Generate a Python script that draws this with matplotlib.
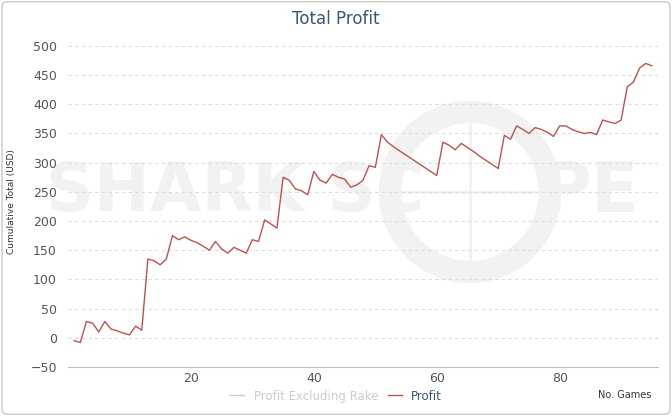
import matplotlib.pyplot as plt
from matplotlib.patches import FancyBboxPatch, Ellipse
from matplotlib.lines import Line2D

# ---------- DATA ----------
profit = [-5, -8, 28, 25, 10, 28, 15, 12, 8, 5, 20, 13,
          135, 132, 125, 135, 175, 168, 173, 167, 163, 157, 150, 165, 152,
          145, 155, 150, 145, 168, 165, 202, 195, 188, 275, 270, 255, 252,
          245, 285, 270, 265, 280, 275, 272, 258, 262, 270, 295, 292,
          348, 335, 327, 320, 313, 306, 299, 292, 285, 278,
          335, 330, 322, 333, 326, 319, 311, 304, 297, 290,
          347, 340, 363, 357, 350, 360, 357, 352, 345, 363, 363, 357, 353,
          350, 352, 348, 373, 370, 367, 373, 430, 438, 462, 470, 466]
games = list(range(1, len(profit) + 1))
y_ticks = list(range(-50, 501, 50))
x_ticks = [20, 40, 60, 80]

W, H = 672, 416
fig = plt.figure(figsize=(W / 100, H / 100), dpi=100)
border = FancyBboxPatch((0.003, 0.004), 0.994, 0.992,
                        boxstyle="round,pad=0,rounding_size=0.01",
                        transform=fig.transFigure, fc="white",
                        ec="#c8c8c8", lw=1, zorder=-10)
fig.patches.append(border)

# watermark (figure pixel coords)
wm = "#f2f2f2"
fig.text(235 / W, 1 - 192 / H, "SHARK SC", ha="center", va="center",
         fontsize=48, fontweight="bold", color=wm, zorder=-5)
fig.text(590 / W, 1 - 192 / H, "PE", ha="center", va="center",
         fontsize=50, fontweight="bold", color=wm, zorder=-5)
fig.patches.append(Ellipse((470 / W, 1 - 192 / H), 160 / W, 160 / H,
                           transform=fig.transFigure, fill=False, ec=wm,
                           lw=16, zorder=-5))
fig.lines.append(Line2D([470 / W, 470 / W], [1 - 112 / H, 1 - 272 / H],
                        transform=fig.transFigure, color=wm, lw=2, zorder=-5))
fig.lines.append(Line2D([390 / W, 550 / W], [1 - 192 / H, 1 - 192 / H],
                        transform=fig.transFigure, color=wm, lw=2, zorder=-5))

ax = fig.add_axes([68 / W, 49 / H, 590 / W, 331 / H])
ax.set_facecolor("none")
ax.plot(games, profit, color="#b85450", lw=1, zorder=3)

ax.set_xlim(0, 96)
ax.set_ylim(-50, 517)
ax.set_yticks(y_ticks)
ax.set_xticks(x_ticks)
ax.grid(axis="y", ls=(0, (3, 3)), color="#dddddd", lw=0.8)
for s in ["top", "right", "left"]:
    ax.spines[s].set_visible(False)
ax.spines["bottom"].set_color("#c0c0c0")
ax.tick_params(length=0, labelsize=9, colors="#555555")
ax.tick_params(axis="y", pad=8)
ax.set_ylabel("Cumulative Total (USD)", fontsize=6.5, color="#333333",
              labelpad=10)

fig.text(0.5, 0.955, "Total Profit", ha="center", va="center",
         fontsize=12, color="#3e576f")
fig.text(0.93, 0.05, "No. Games", ha="center", va="center",
         fontsize=7, color="#333333")
handles = [Line2D([], [], color="#cccccc", lw=1),
           Line2D([], [], color="#b85450", lw=1)]
leg = fig.legend(handles, ["Profit Excluding Rake", "Profit"], loc="center",
                 bbox_to_anchor=(0.5, 0.048), ncol=2, frameon=False,
                 fontsize=8.5, handlelength=1.2, columnspacing=0.8)
leg.get_texts()[0].set_color("#cccccc")
leg.get_texts()[1].set_color("#3e576f")

fig.savefig("out.png", dpi=100)
